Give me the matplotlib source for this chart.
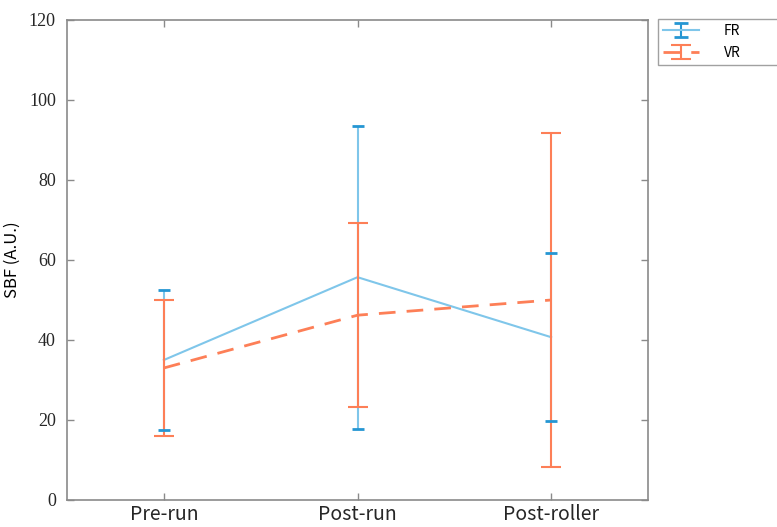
import matplotlib.pyplot as plt
import numpy as np

# data
phases = ['Pre-run', 'Post-run', 'Post-roller']
fr_mean = [35.0, 55.7, 40.7]
fr_err = [17.5, 37.9, 21.0]
vr_mean = [33.0, 46.2, 50.0]
vr_err = [16.9, 23.0, 41.7]

blue_line = '#7fc6ea'
blue_cap = '#2596d3'
orange = '#fd7f57'
gray = '#8a8a8a'

fig = plt.figure(figsize=(7.77, 5.27), dpi=100)
ax = fig.add_axes([67 / 777, 27 / 527, 581 / 777, 480 / 527])

x = np.arange(1, len(phases) + 1)

ax.errorbar(x, fr_mean, yerr=fr_err, color=blue_line, ecolor=blue_line,
            lw=1.5, elinewidth=1.5, capsize=0, zorder=2)
# darker caps for FR
for xi, m, e in zip(x, fr_mean, fr_err):
    ax.plot([xi, xi], [m + e, m - e], ls='none', marker='_', ms=8, mew=2,
            color=blue_cap, zorder=4)

eb_vr = ax.errorbar(x, vr_mean, yerr=vr_err, color=orange, ecolor=orange,
                    lw=2, ls='--', dashes=(6, 4), elinewidth=1.5, capsize=7,
                    capthick=1.5, label='VR', zorder=3)

ax.set_xlim(0.5, 3.5)
ax.set_ylim(0, 120)
ax.set_yticks(np.arange(0, 121, 20))
ax.set_xticks(x)
ax.set_xticklabels(phases, fontsize=14, family='Noto Sans CJK SC')
for lab in ax.get_yticklabels():
    lab.set_family('Liberation Serif')
    lab.set_fontsize(13)
ax.set_ylabel('SBF (A.U.)', fontsize=12, family='Noto Sans CJK SC', labelpad=6)

for s in ax.spines.values():
    s.set_color(gray)
    s.set_linewidth(1.2)
ax.tick_params(direction='in', length=5, width=1, color=gray,
               top=True, right=True, labelcolor='#262626')
ax.tick_params(axis='x', pad=3)
ax.tick_params(axis='y', pad=8)

# legend handle for FR with dark caps
fr_handle = ax.errorbar([np.nan], [np.nan], yerr=[1], color=blue_line,
                        ecolor=blue_cap, lw=1.5, elinewidth=1.5, capsize=5, capthick=2)
leg = fig.legend([fr_handle, eb_vr], ['FR', 'VR'], loc='upper left',
                 bbox_to_anchor=(658 / 777, 1 - 19 / 527 - 0.01, 140 / 777, 0.01),
                 mode='expand', borderaxespad=0, frameon=True,
                 fancybox=False, edgecolor=gray, handlelength=2.6,
                 handletextpad=1.8, borderpad=0.35, labelspacing=0.6,
                 prop={'family': 'Noto Sans CJK SC', 'size': 10})
leg.get_frame().set_linewidth(1)

fig.savefig('out.png', dpi=100)
